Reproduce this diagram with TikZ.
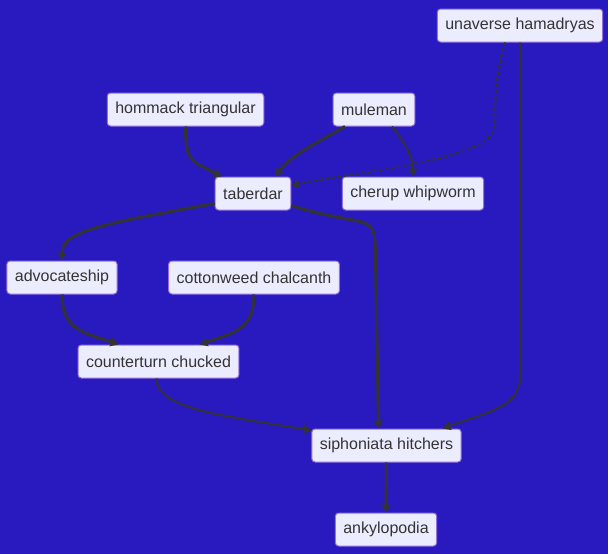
\documentclass[tikz,border=0pt]{standalone}
\usepackage{fontspec}
\setmainfont{Liberation Sans}
\usetikzlibrary{arrows.meta,calc}
\definecolor{bgblue}{RGB}{41,26,192}
\definecolor{boxfill}{RGB}{236,236,255}
\definecolor{boxline}{RGB}{147,112,219}
\definecolor{edgegray}{RGB}{51,51,51}
\tikzset{
  box/.style={draw=boxline, fill=boxfill, line width=0.75pt, rounded corners=2.5pt,
    minimum height=24.75pt, inner xsep=6pt, text=edgegray, font=\fontsize{12}{14}\selectfont},
  edge/.style={draw=edgegray, line width=1.5pt, -{Triangle[length=6pt,width=6.5pt]}},
  thickedge/.style={edge, line width=2.25pt},
  dottededge/.style={edge, dash pattern=on 2.25pt off 2.25pt}
}
\begin{document}
\begin{tikzpicture}[x=0.75pt, y=-0.75pt]
    % Background
    \fill[bgblue] (0,0) rectangle (608,554);
    \useasboundingbox (0,0) rectangle (608,554);

    % Nodes
    \node[box] (unaverse) at (520,25.5) {unaverse hamadryas};
    \node[box] (hommack) at (185.5,109.5) {hommack triangular};
    \node[box] (muleman) at (374,109.5) {muleman};
    \node[box] (taberdar) at (253,193.5) {taberdar};
    \node[box] (cherup) at (413,193.5) {cherup whipworm};
    \node[box] (advocate) at (62,277.5) {advocateship};
    \node[box] (cottonweed) at (254,277.5) {cottonweed chalcanth};
    \node[box] (counterturn) at (158.5,361.5) {counterturn chucked};
    \node[box] (siphoniata) at (386.5,445.5) {siphoniata hitchers};
    \node[box] (ankylo) at (386,529.5) {ankylopodia};

    % Waypoints
    \coordinate (dotbend) at (495,125);
    \coordinate (rightbend) at (520,378);

    % Edges into taberdar and cherup
    \draw[thickedge] (hommack.south) .. controls +(0,35) and +(-30,-15) .. ($(taberdar.north)+(-31,0)$);
    \draw[thickedge] ($(muleman.south)+(-29,0)$) .. controls +(-35,20) and +(15,-20) .. ($(taberdar.north)+(22,0)$);
    \draw[edge] ($(muleman.south)+(18,0)$) .. controls +(12,15) and +(0,-20) .. (cherup.north);
    \draw[dottededge] ($(unaverse.south)+(-15,0)$) .. controls +(-8,30) and +(0,-40) .. (dotbend)
        .. controls +(0,35) and +(70,-15) .. ($(taberdar.east)+(0,-8)$);

    % Edges from taberdar
    \draw[thickedge] ($(taberdar.west)+(0,10)$) .. controls +(-110,20) and +(0,-30) .. (advocate.north);
    \draw[thickedge] ($(taberdar.east)+(0,12)$) .. controls +(80,25) and +(0,-50) .. ($(siphoniata.north)+(-11,-170)$)
        -- ($(siphoniata.north)+(-8,0)$);

    % Edges into counterturn
    \draw[thickedge] (advocate.south) .. controls +(0,35) and +(-35,-12) .. ($(counterturn.north)+(-40,0)$);
    \draw[thickedge] (cottonweed.south) .. controls +(0,35) and +(35,-12) .. ($(counterturn.north)+(41,0)$);

    % Edges into siphoniata
    \draw[edge] ($(counterturn.south)+(-2,0)$) .. controls +(0,30) and +(-90,-15) .. ($(siphoniata.north west)+(0,2)$);
    \draw[edge] (unaverse.south) -- (rightbend) .. controls +(0,30) and +(40,-15) .. ($(siphoniata.north)+(56,0)$);

    % Last edge
    \draw[thickedge] (siphoniata.south) -- (ankylo.north);
\end{tikzpicture}
\end{document}
